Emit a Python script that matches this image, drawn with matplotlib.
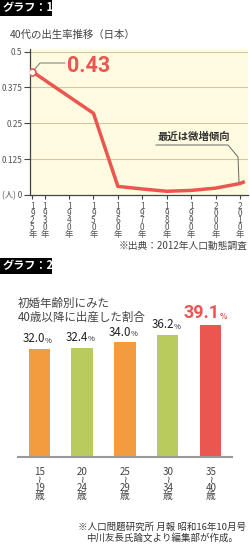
import matplotlib
matplotlib.use("Agg")
import matplotlib.pyplot as plt
from matplotlib.patches import Rectangle
from matplotlib.lines import Line2D
from matplotlib.transforms import Affine2D

plt.rcParams["font.family"] = ["Noto Sans CJK JP", "DejaVu Sans"]

W, H = 250, 548

# graph 1: births per woman in her 40s (Japan)
years = [1925, 1950, 1960, 1970, 1980, 1990, 2000, 2010, 2012]
births = [0.43, 0.285, 0.030, 0.021, 0.013, 0.016, 0.024, 0.040, 0.047]
year_ticks = [1925, 1930, 1940, 1950, 1960, 1970, 1980, 1990, 2000, 2010]
rate_ticks = [0, 0.125, 0.25, 0.375, 0.5]
rate_labels = ["(人) 0", "0.125", "0.25", "0.375", "0.5"]

# graph 2: share giving birth after 40, by age at first marriage
age_groups = ["15\n≀\n19\n歳", "20\n≀\n24\n歳", "25\n≀\n29\n歳", "30\n≀\n34\n歳", "35\n≀\n40\n歳"]
shares = [32.0, 32.4, 34.0, 36.2, 39.1]

ORANGE = "#F29B3F"
GREEN = "#B9CB5C"
RED = "#EB5650"
bar_colors = [ORANGE, GREEN, ORANGE, GREEN, RED]
NARROW = ["Roboto", "DejaVu Sans"]

fig = plt.figure(figsize=(W / 100, H / 100), dpi=100)
fig.patch.set_facecolor("white")
px = Affine2D().scale(1 / W, -1 / H).translate(0, 1) + fig.transFigure


def rect(left, top, right, bottom):
    return [left / W, 1 - bottom / H, (right - left) / W, (bottom - top) / H]


def tag(text, top):
    fig.add_artist(Rectangle((0, top), 52, 16, transform=px, facecolor="black",
                             edgecolor="none"))
    fig.text(3, top + 8, text, transform=px, color="white", fontsize=8, fontweight="bold",
             va="center", ha="left")


# ---- graph 1 ----
tag("グラフ：1", 0)
fig.text(10, 35, "40代の出生率推移（日本）", transform=px, fontsize=7.5, color="#444",
         va="center", ha="left")

ax1 = fig.add_axes(rect(30, 49, 248, 195))
ax1.set_facecolor("#FFFBE1")
ax1.set_xlim(1924.0, 2013.3)
ax1.set_ylim(0, 0.5093)
for y in rate_ticks[1:]:
    ax1.axhline(y, color="#CFC9A0", lw=0.8, zorder=1)
ax1.plot(years, births, color=RED, lw=2.5, solid_capstyle="butt", zorder=3)
ax1.plot(years[:1], births[:1], "o", ms=5, mfc="white", mec=RED, mew=1.2, zorder=4)
ax1.set_yticks(rate_ticks)
ax1.set_yticklabels(rate_labels, fontsize=6, color="#555")
ax1.set_xticks(year_ticks)
ax1.set_xticklabels(["\n".join(str(y)) + "\n年" for y in year_ticks], fontsize=6,
                    color="#555", linespacing=0.72)
ax1.tick_params(axis="y", length=4, width=0.8, color="#444", pad=1.5)
ax1.tick_params(axis="x", length=3, width=0.8, color="#444", pad=2)
for side in ("top", "right"):
    ax1.spines[side].set_visible(False)
for side in ("left", "bottom"):
    ax1.spines[side].set_color("#444")
    ax1.spines[side].set_linewidth(0.9)

fig.add_artist(Line2D([35, 40, 65], [69, 63, 63], transform=px, color="#777", lw=0.7))
fig.text(67, 66, "0.43", transform=px, color=RED, fontsize=15.5, fontweight="bold",
         family=NARROW, va="center", ha="left")

fig.text(158, 137, "最近は微増傾向", transform=px, fontsize=7.5, color="#333",
         fontweight="bold", va="center", ha="left")
fig.add_artist(Line2D([156, 228, 238, 239], [145, 145, 157, 182], transform=px,
                      color="#666", lw=0.7))
fig.text(248, 246, "※出典：2012年人口動態調査", transform=px, fontsize=7, color="#444",
         va="center", ha="right")

# ---- graph 2 ----
tag("グラフ：2", 258)
fig.text(18, 303, "初婚年齢別にみた", transform=px, fontsize=8.3, color="#444",
         va="center", ha="left")
fig.text(18, 317, "40歳以降に出産した割合", transform=px, fontsize=8.3, color="#444",
         va="center", ha="left")

ax2 = fig.add_axes(rect(18, 300, 232, 457))
ax2.set_xlim(-0.49, 4.49)
ax2.set_ylim(0, 46.5)
ax2.patch.set_alpha(0)
xs = list(range(len(shares)))
ax2.bar(xs, shares, width=0.49, color=bar_colors, zorder=2)
for side in ("top", "right", "left"):
    ax2.spines[side].set_visible(False)
ax2.spines["bottom"].set_color("#999")
ax2.spines["bottom"].set_linewidth(1.5)
ax2.set_yticks([])
ax2.set_xticks(xs)
ax2.set_xticklabels(age_groups, fontsize=7, color="#444", linespacing=0.78)
ax2.tick_params(axis="x", length=0, pad=7)

for i, v in enumerate(shares):
    if i == len(shares) - 1:
        ax2.annotate(f"{v:.1f}", xy=(i, v), xytext=(9 * 0.72, 2.5), textcoords="offset points",
                     ha="right", va="bottom", fontsize=13, fontweight="bold", color=RED,
                     family=NARROW)
        ax2.annotate("%", xy=(i, v), xytext=(9 * 0.72, 3), textcoords="offset points",
                     ha="left", va="bottom", fontsize=5.5, fontweight="bold", color=RED)
    else:
        ax2.annotate(f"{v:.1f}", xy=(i, v), xytext=(6 * 0.72, 2.5), textcoords="offset points",
                     ha="right", va="bottom", fontsize=8.3, color="#222")
        ax2.annotate("%", xy=(i, v), xytext=(6 * 0.72, 3), textcoords="offset points",
                     ha="left", va="bottom", fontsize=5.5, color="#222")

fig.text(162, 527, "※人口問題研究所 月報 昭和16年10月号", transform=px, fontsize=6.8,
         color="#333", va="center", ha="center")
fig.text(162, 538, "中川友長氏論文より編集部が作成。", transform=px, fontsize=6.8,
         color="#333", va="center", ha="center")

fig.savefig("out.png", dpi=100)
